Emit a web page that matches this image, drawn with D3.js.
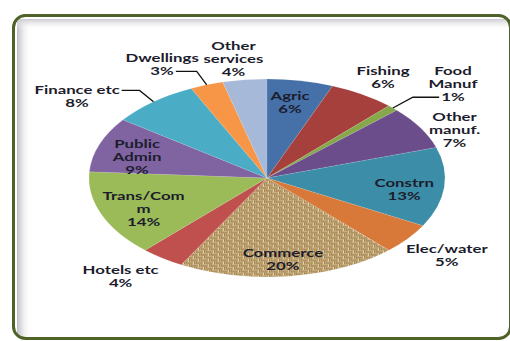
<!DOCTYPE html>
<html>
<head>
<meta charset="utf-8">
<script src="https://cdn.jsdelivr.net/npm/d3@7"></script>
<style>
  html, body { margin: 0; padding: 0; background: #fff; }
  svg { display: block; }
</style>
</head>
<body>
<script>
// sector shares of output (percent)
const categories = ["Agric", "Fishing", "Food Manuf", "Other manuf.", "Constrn", "Elec/water",
  "Commerce", "Hotels etc", "Trans/Comm", "Public Admin", "Finance etc", "Dwellings", "Other services"];
const shares = [6, 6, 1, 7, 13, 5, 20, 4, 14, 9, 8, 3, 4];
// how each label wraps in the picture
const labelLines = [["Agric"], ["Fishing"], ["Food", "Manuf"], ["Other", "manuf."], ["Constrn"],
  ["Elec/water"], ["Commerce"], ["Hotels etc"], ["Trans/Com", "m"], ["Public", "Admin"],
  ["Finance etc"], ["Dwellings"], ["Other", "services"]];

const colors = ["#4670a8", "#a5403d", "#86a84a", "#6b4d8c", "#3c8ea8", "#d8793a",
  "url(#burlap)", "#c0504d", "#9bbb59", "#8064a2", "#4bacc6", "#f79646", "#a7b9d9"];

// label placement: [radius factor, angle nudge in degrees]
const labelPlace = [[0.77, -1.1], [1.21, 0.2], [1.41, 2.8], [1.16, 5.9], [0.78, 3.5], [1.28, 0.1],
  [0.83, 1], [1.29, 3.6], [0.76, -2.6], [0.76, -3.6], [1.345, -12.9], [1.285, -7.5], [1.22, -1.7]];
// leader lines: index -> elbow offset from slice edge, which side of text, which line
const leaders = { 2: { dx: 20, dy: -11, side: "left", line: 2 },
                  10: { dx: -14, dy: -13, side: "right", line: 0 },
                  11: { dx: -10, dy: -15, side: "right", line: 1 } };

const width = 510, height = 341;
const cx = 267, cy = 178, rx = 178, ry = 99;
const lh = 13, stretch = 1.4;

const svg = d3.select("body").append("svg")
  .attr("width", width).attr("height", height);

const defs = svg.append("defs");

// burlap weave for commerce
const cell = 5, P = cell * 2;
const pat = defs.append("pattern").attr("id", "burlap")
  .attr("patternUnits", "userSpaceOnUse").attr("width", P).attr("height", P);
pat.append("rect").attr("width", P).attr("height", P).attr("fill", "#7a5d36");
const strand = ["#e3d0a3", "#c4a46c"];
[[0, 0, "h"], [cell, cell, "h"], [cell, 0, "v"], [0, cell, "v"]].forEach(([x, y, dir]) => {
  for (let s = 0; s < 2; s++) {
    if (dir === "h") pat.append("rect").attr("x", x).attr("y", y + 0.4 + s * 2.4).attr("width", cell).attr("height", 1.9).attr("fill", strand[s]);
    else pat.append("rect").attr("x", x + 0.4 + s * 2.4).attr("y", y).attr("width", 1.9).attr("height", cell).attr("fill", strand[s]);
  }
});

const gl = defs.append("linearGradient").attr("id", "shadeL");
gl.append("stop").attr("offset", 0).attr("stop-color", "#bdbdc4");
gl.append("stop").attr("offset", 1).attr("stop-color", "#fff").attr("stop-opacity", 0);
const gt = defs.append("linearGradient").attr("id", "shadeT").attr("x2", 0).attr("y2", 1);
gt.append("stop").attr("offset", 0).attr("stop-color", "#cbcbd0");
gt.append("stop").attr("offset", 1).attr("stop-color", "#fff").attr("stop-opacity", 0);

// frame
svg.append("rect").attr("x", 17).attr("y", 19).attr("width", 14).attr("height", 318)
  .attr("fill", "url(#shadeL)");
svg.append("rect").attr("x", 17).attr("y", 19).attr("width", 495).attr("height", 11)
  .attr("fill", "url(#shadeT)");
svg.append("rect").attr("x", 13.5).attr("y", 15.5).attr("width", 497).attr("height", 323)
  .attr("rx", 12).attr("fill", "none").attr("stroke", "#4f6228").attr("stroke-width", 3);

// pie
const pie = d3.pie().sort(null).value(d => d);
const arcs = pie(shares);
const arc = d3.arc().innerRadius(0).outerRadius(rx);

svg.append("g")
  .attr("transform", `translate(${cx},${cy}) scale(1,${ry / rx})`)
  .selectAll("path")
  .data(arcs)
  .enter()
  .append("path")
  .attr("d", arc)
  .attr("fill", (d, i) => colors[i])
  .attr("stroke", "rgba(255,255,255,0.25)")
  .attr("stroke-width", 0.5);

const onEllipse = (a, r) => [cx + rx * r * Math.sin(a), cy - ry * r * Math.cos(a)];
const midAngle = d => (d.startAngle + d.endAngle) / 2;

// labels
const labels = svg.append("g")
  .attr("font-family", "Lato, 'Open Sans', sans-serif")
  .attr("font-weight", "bold")
  .attr("font-size", 12)
  .attr("fill", "#1c1c2c");

arcs.forEach((d, i) => {
  const [r, nudge] = labelPlace[i];
  const [x, y] = onEllipse(midAngle(d) + nudge * Math.PI / 180, r);
  const lines = labelLines[i].concat([shares[i] + "%"]);
  const top = y - (lines.length - 1) * lh / 2 + 4;
  const t = labels.append("text")
    .attr("text-anchor", "middle")
    .attr("transform", `translate(${x},${top}) scale(${stretch},1)`);
  const spans = lines.map((s, k) => t.append("tspan").attr("x", 0).attr("y", k * lh).text(s));

  const ld = leaders[i];
  if (ld) {
    const [ex, ey] = onEllipse(midAngle(d), 1);
    const w = spans[ld.line].node().getComputedTextLength() * stretch;
    const lineY = top + ld.line * lh - 4;
    const endX = ld.side === "left" ? x - w / 2 - 2 : x + w / 2 + 2;
    svg.append("path")
      .attr("d", d3.line()([[ex, ey], [ex + ld.dx, lineY], [endX, lineY]]))
      .attr("fill", "none").attr("stroke", "#111").attr("stroke-width", 1.3);
  }
});
</script>
</body>
</html>
